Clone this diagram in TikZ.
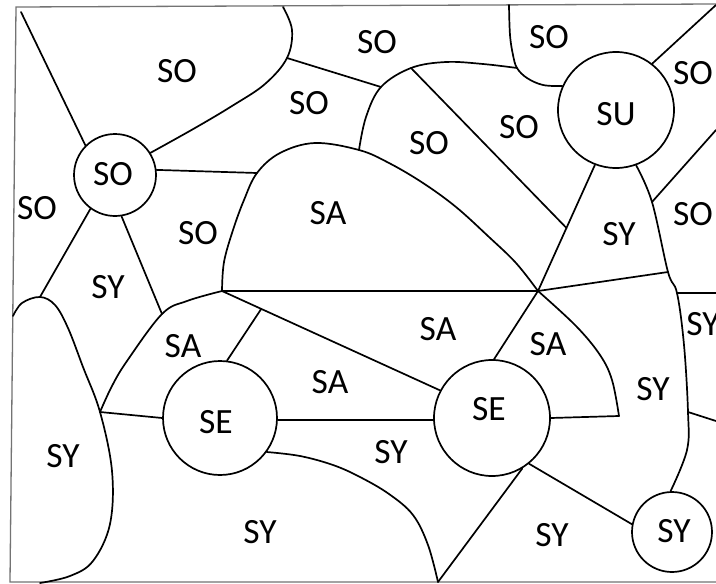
\documentclass[tikz,border=0pt]{standalone}
\usepackage{fontspec}
\setmainfont{Carlito}
\usetikzlibrary{calc}
\begin{document}
\begin{tikzpicture}[x=1pt,y=-1pt,
  edge/.style={line width=1.7pt, line join=round, line cap=round},
  lbl/.style={inner sep=0pt, font=\fontsize{35.5}{35.5}\selectfont},
  country/.style={circle, draw, line width=1.7pt, inner sep=0pt},
  frame/.style={draw=black!55, line width=1.3pt}]
\useasboundingbox (0,0) rectangle (716,584);
\fill[white] (0,0) rectangle (716,584);

% frame
\coordinate (fTL) at (16,7);
\coordinate (fTR) at (716,4);
\coordinate (fBL) at (10,582);
\coordinate (fBR) at (716,582);
\draw[frame] (fTR) -- (fTL) -- (fBL) -- (fBR);

% circle countries
\node[country, minimum size=82pt]  (soC) at (115,175) {};
\node[country, minimum size=116pt] (suC) at (616,110) {};
\node[country, minimum size=114pt] (seL) at (220,418) {};
\node[country, minimum size=116pt] (seR) at (492,418) {};
\node[country, minimum size=80pt]  (syC) at (672,532) {};

% junction coordinates
\coordinate (A) at (222,291);
\coordinate (J) at (538,291);
\coordinate (B) at (100,412);
\coordinate (P) at (287,58);
\coordinate (Q) at (381,87);
\coordinate (D1) at (359,150);
\coordinate (D2) at (517,68);
\coordinate (E) at (411,68);
\coordinate (H) at (652,202);
\coordinate (G) at (668,272);
\coordinate (R) at (677,293);
\coordinate (S) at (688,412);
\coordinate (T) at (40,297);
\coordinate (M) at (162,314);
\coordinate (L1) at (257,173);
\coordinate (V) at (438,582);
\coordinate (W) at (619,416);
\coordinate (cTL) at (21,12);
\coordinate (eTop1) at (283,7);
\coordinate (eTop2) at (509,5);
\coordinate (eTR) at (716,5);
\coordinate (e1) at (716,130);
\coordinate (e2) at (716,293);
\coordinate (e3) at (716,421);
\coordinate (lobeL) at (13,316);
\coordinate (lobeB) at (40,583);
\coordinate (F) at ($(suC.-111)!0.5!(J)$);
\coordinate (K) at ($(A)!0.18!(seR.152)$);

% curved borders
\draw[edge] plot[smooth, tension=0.6] coordinates {(eTop1) (292,30) (P) (265,84) (232,106) (195,128) (soC.32)};
\draw[edge] plot[smooth, tension=0.6] coordinates {(A) (224,262) (233,230) (244,200) (L1) (280,153) (315,143) (D1) (389,163) (423,183) (456,207) (489,237) (516,263) (J)};
\draw[edge] plot[smooth, tension=0.6] coordinates {(D1) (366,117) (Q) (E) (446,62) (483,64) (D2)};
\draw[edge] plot[smooth, tension=0.6] coordinates {(eTop2) (510,35) (513,55) (D2) (527,78) (543,85) (suC.156)};
\draw[edge] plot[smooth, tension=0.6] coordinates {(suC.-70) (H) (G) (R) (684,345) (S) (687,450) (syC.92)};
\draw[edge] plot[smooth, tension=0.6] coordinates {(B) (112,386) (127,361) (M) (187,301) (A)};
\draw[edge] plot[smooth, tension=0.6] coordinates {(lobeL) (22,303) (T) (55,305) (68,328) (83,367) (B) (112,471) (110,524) (93,561) (70,576) (lobeB)};
\draw[edge] plot[smooth, tension=0.6] coordinates {(seL.-36) (300,456) (333,465) (360,477) (389,494) (413,515) (428,545) (V)};
\draw[edge] plot[smooth, tension=0.6] coordinates {(J) (576,326) (600,355) (612,380) (W)};

% straight borders
\draw[edge] (cTL) -- (soC.135);
\draw[edge] (P) -- (Q);
\draw[edge] (soC.7) -- (L1);
\draw[edge] (soC.234) -- (T);
\draw[edge] (soC.-81) -- (M);
\draw[edge] (E) -- (F);
\draw[edge] (suC.-111) -- (J);
\draw[edge] (suC.52) -- (eTR);
\draw[edge] (H) -- (e1);
\draw[edge] (J) -- (G);
\draw[edge] (R) -- (e2);
\draw[edge] (S) -- (e3);
\draw[edge] (A) -- (J);
\draw[edge] (A) -- (seR.152);
\draw[edge] (seL.83) -- (K);
\draw[edge] (B) -- (seL.180);
\draw[edge] (seL.-2) -- (seR.182);
\draw[edge] (V) -- (seR.-59);
\draw[edge] (seR.-51) -- (syC.169);
\draw[edge] (seR.88) -- (J);
\draw[edge] (W) -- (seR.0);

% labels
\node[lbl] (tSOc) at (113,174) {SO};
\node[lbl] (tSU) at (616,114) {SU};
\node[lbl] (tSEl) at (216,422) {SE};
\node[lbl] (tSEr) at (489,409) {SE};
\node[lbl] (tSYc) at (674,531) {SY};

\node[lbl] (r1) at (177,71) {SO};
\node[lbl] (r2) at (377,42) {SO};
\node[lbl] (r3) at (309,103) {SO};
\node[lbl] (r4) at (549,37) {SO};
\node[lbl] (r5) at (693,73) {SO};
\node[lbl] (r6) at (519,127) {SO};
\node[lbl] (r7) at (429,143) {SO};
\node[lbl] (r8) at (37,208) {SO};
\node[lbl] (r9) at (198,233) {SO};
\node[lbl] (r10) at (328,213) {SA};
\node[lbl] (r11) at (619,234) {SY};
\node[lbl] (r12) at (693,214) {SO};
\node[lbl] (r13) at (108,287) {SY};
\node[lbl] (r14) at (183,346) {SA};
\node[lbl] (r15) at (438,329) {SA};
\node[lbl] (r16) at (548,344) {SA};
\node[lbl] (r17) at (703,324) {SY};
\node[lbl] (r18) at (653,389) {SY};
\node[lbl] (r19) at (330,382) {SA};
\node[lbl] (r20) at (391,452) {SY};
\node[lbl] (r21) at (63,456) {SY};
\node[lbl] (r22) at (260,532) {SY};
\node[lbl] (r23) at (552,535) {SY};
\end{tikzpicture}
\end{document}
